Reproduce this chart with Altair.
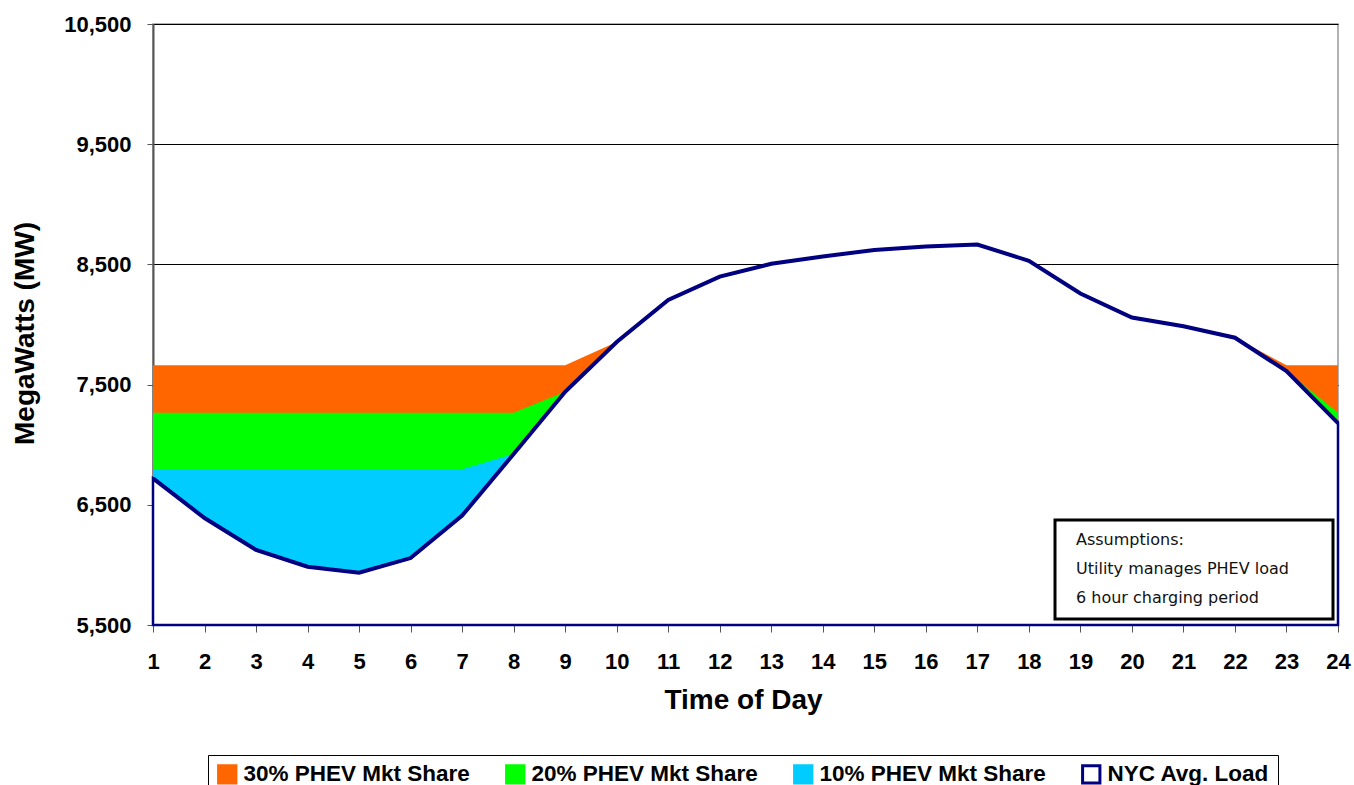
import altair as alt
import pandas as pd

# ---- data ----
hours = list(range(1, 25))
nyc_load = [6720, 6390, 6125, 5985, 5935, 6057, 6410, 6923, 7440, 7854, 8204, 8398,
            8505, 8566, 8620, 8648, 8665, 8530, 8258, 8058, 7985, 7890, 7612, 7180]
share10 = [6795, 6795, 6795, 6795, 6795, 6795, 6795, 6923, 7440, 7854, 8204, 8398,
           8505, 8566, 8620, 8648, 8665, 8530, 8258, 8058, 7985, 7890, 7612, 7180]
share20 = [7265, 7265, 7265, 7265, 7265, 7265, 7265, 7265, 7440, 7854, 8204, 8398,
           8505, 8566, 8620, 8648, 8665, 8530, 8258, 8058, 7985, 7890, 7612, 7265]
share30 = [7660, 7660, 7660, 7660, 7660, 7660, 7660, 7660, 7660, 7854, 8204, 8398,
           8505, 8566, 8620, 8648, 8665, 8530, 8258, 8058, 7985, 7890, 7660, 7660]

series_names = ["30% PHEV Mkt Share", "20% PHEV Mkt Share", "10% PHEV Mkt Share", "NYC Avg. Load"]
fill_colors = ["#FF6600", "#00FF00", "#00CCFF", "#FFFFFF"]
stroke_colors = ["#FF6600", "#00FF00", "#00CCFF", "#000080"]
y_ticks = [5500, 6500, 7500, 8500, 9500, 10500]
notes = ["Assumptions:", "Utility manages PHEV load", "6 hour charging period"]

FONT = "Liberation Sans"

rows = []
for name, vals in zip(series_names, [share30, share20, share10, nyc_load]):
    for h, v in zip(hours, vals):
        rows.append({"hour": h, "MW": v, "series": name})
df = pd.DataFrame(rows)

x_enc = alt.X(
    "hour:Q",
    scale=alt.Scale(domain=[1, 24], nice=False, zero=False),
    axis=alt.Axis(
        values=hours, format="d", title="Time of Day", grid=False, tickSize=7,
        tickColor="#555555", domain=False, labelFont=FONT, labelFontSize=22,
        labelFontWeight="bold", labelColor="black", labelPadding=19,
        labelFlush=False, labelOverlap=False,
        titleFont=FONT, titleFontSize=28, titleFontWeight="bold", titleColor="black",
        titleX=590, titleY=83, titleBaseline="alphabetic", titleAlign="center",
    ),
)
y_enc = alt.Y(
    "MW:Q",
    scale=alt.Scale(domain=[5500, 10500], nice=False, zero=False),
    axis=alt.Axis(
        values=y_ticks, format=",.0f", title="MegaWatts (MW)", grid=True,
        gridColor="black", gridWidth=1, tickSize=6, tickColor="#555555",
        domainColor="#555555", domainWidth=2, labelFont=FONT, labelFontSize=22,
        labelFontWeight="bold", labelColor="black", labelPadding=16,
        labelFlush=False, labelOverlap=False,
        titleFont=FONT, titleFontSize=28, titleFontWeight="bold", titleColor="black",
        titleX=-120, titleY=309, titleAngle=270, titleBaseline="alphabetic",
        titleAlign="center",
    ),
)

legend = alt.Legend(
    title=None, orient="none", direction="horizontal", legendX=55, legendY=731,
    symbolType="square", symbolSize=300, symbolStrokeWidth=3, symbolOpacity=1,
    labelFont=FONT, labelFontSize=22.5, labelFontWeight="bold", labelColor="black",
    labelOffset=5, labelLimit=400, columnPadding=30, strokeColor="black",
    padding=8, fillColor="white",
)
fill_enc = alt.Fill("series:N", scale=alt.Scale(domain=series_names, range=fill_colors), legend=legend)
stroke_enc = alt.Stroke("series:N", scale=alt.Scale(domain=series_names, range=stroke_colors), legend=legend)

base = alt.Chart(df)

layers = []
for name in series_names[:3]:
    layers.append(
        base.transform_filter(alt.datum.series == name)
        .mark_area(opacity=1, clip=True, interpolate="linear")
        .encode(x=x_enc, y=y_enc, y2=alt.Y2(datum=5500), fill=fill_enc)
    )

load_area = (
    base.transform_filter(alt.datum.series == "NYC Avg. Load")
    .mark_area(opacity=1, strokeWidth=2.5, interpolate="linear")
    .encode(x=x_enc, y=y_enc, y2=alt.Y2(datum=5500), fill=fill_enc, stroke=stroke_enc)
)
load_line = (
    base.transform_filter(alt.datum.series == "NYC Avg. Load")
    .mark_line(color="#000080", strokeWidth=4, interpolate="linear")
    .encode(x=x_enc, y=y_enc)
)

note_box = (
    alt.Chart(pd.DataFrame({"k": [0]}))
    .mark_rect(fill="white", stroke="black", strokeWidth=3)
    .encode(x=alt.value(902), x2=alt.value(1180), y=alt.value(496), y2=alt.value(595))
)
note_text = (
    alt.Chart(pd.DataFrame({"k": [0]}))
    .mark_text(align="left", baseline="alphabetic", font="DejaVu Sans", fontSize=16,
               lineHeight=29, color="#111111")
    .encode(x=alt.value(923), y=alt.value(521), text=alt.value(notes))
)

chart = (
    alt.layer(*layers, load_area, load_line, note_box, note_text)
    .properties(
        width=1185, height=601,
        autosize=alt.AutoSizeParams(type="none"),
        padding={"left": 153, "top": 24, "right": 16, "bottom": 160},
        background="white",
    )
    .configure_view(stroke="#999999", strokeWidth=1.5)
)

chart.save("out.html", embed_options={"renderer": "svg", "actions": False})
